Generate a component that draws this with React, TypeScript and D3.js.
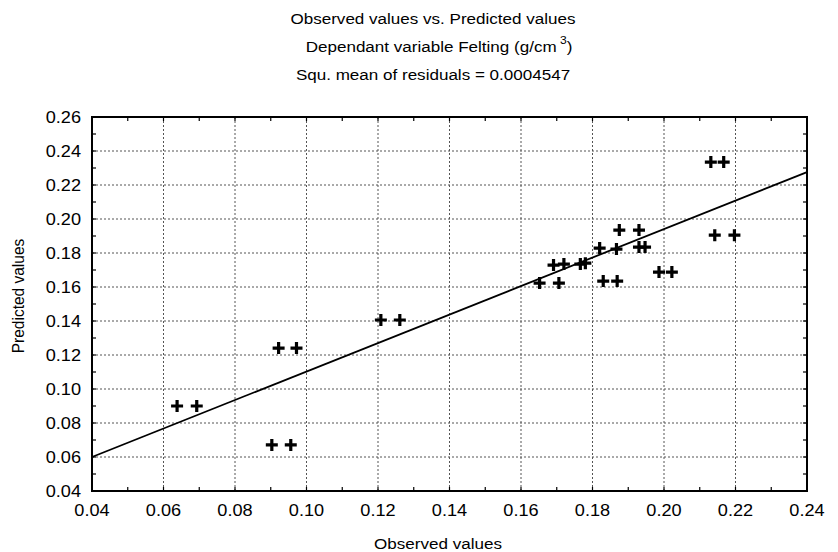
import React from "react";
import * as d3 from "d3";

const titleLines = [
  "Observed values vs. Predicted values",
  "Dependant variable Felting (g/cm",
  "Squ. mean of residuals = 0.0004547",
];
const xLabel = "Observed values";
const yLabel = "Predicted values";

const xTickValues = [0.04, 0.06, 0.08, 0.1, 0.12, 0.14, 0.16, 0.18, 0.2, 0.22, 0.24];
const xTickLabels = ["0.04", "0.06", "0.08", "0.10", "0.12", "0.14", "0.16", "0.18", "0.20", "0.22", "0.24"];
const yTickValues = [0.04, 0.06, 0.08, 0.1, 0.12, 0.14, 0.16, 0.18, 0.2, 0.22, 0.24, 0.26];
const yTickLabels = ["0.04", "0.06", "0.08", "0.10", "0.12", "0.14", "0.16", "0.18", "0.20", "0.22", "0.24", "0.26"];

const observed = [
  0.0638, 0.0693, 0.0903, 0.0956, 0.0922, 0.0972, 0.1208, 0.1261,
  0.1652, 0.1706, 0.1691, 0.172, 0.1766, 0.178, 0.182, 0.1867,
  0.183, 0.1869, 0.1875, 0.193, 0.193, 0.1947, 0.1986, 0.2022,
  0.2131, 0.2167, 0.2142, 0.2197,
];
const predicted = [
  0.09, 0.09, 0.0671, 0.0671, 0.1241, 0.1241, 0.1406, 0.1406,
  0.1623, 0.1623, 0.1729, 0.1735, 0.1735, 0.174, 0.1829, 0.1823,
  0.1635, 0.1635, 0.1935, 0.1935, 0.1835, 0.1835, 0.1688, 0.1688,
  0.2335, 0.2335, 0.1905, 0.1905,
];

const fitX = [0.04, 0.24];
const fitY = [0.06, 0.2276];

const W = 838;
const H = 552;
const L = 92, R = 807, T = 117, B = 491;
const FONT = "'Liberation Sans', Arial, Helvetica, sans-serif";
const SX = 1.1;

export default function App() {
  const x = d3.scaleLinear().domain([0.04, 0.24]).range([L, R]);
  const y = d3.scaleLinear().domain([0.04, 0.26]).range([B, T]);

  const minorX = d3.range(0.05, 0.24, 0.02);
  const minorY = d3.range(0.05, 0.26, 0.02);

  const line = d3
    .line<number>()
    .x((_, i) => x(fitX[i]))
    .y((d) => y(d));

  const plus = (cx: number, cy: number) =>
    `M${cx - 6},${cy}H${cx + 6}M${cx},${cy - 6}V${cy + 6}`;

  const cx = 433;

  return (
    <svg
      width={W}
      height={H}
      style={{ position: "absolute", left: 0, top: 0, background: "#fff" }}
      fontFamily={FONT}
    >
      <rect x={0} y={0} width={W} height={H} fill="#fff" />
      {/* titles */}
      <g fill="#000" fontSize={15.5}>
        <text transform={`translate(${cx},24) scale(${SX},1)`} textAnchor="middle">
          {titleLines[0]}
        </text>
        <text transform={`translate(${cx + 6},52) scale(${SX},1)`} textAnchor="middle">
          {titleLines[1]}
          <tspan dx={3} dy={-8} fontSize={11}>3</tspan>
          <tspan dy={8}>)</tspan>
        </text>
        <text transform={`translate(${cx},80) scale(${SX},1)`} textAnchor="middle">
          {titleLines[2]}
        </text>
      </g>

      {/* grid */}
      <g stroke="#555" strokeWidth={1} strokeDasharray="2,2">
        {xTickValues.slice(1, -1).map((v) => (
          <line key={"gx" + v} x1={x(v)} x2={x(v)} y1={T} y2={B} />
        ))}
        {yTickValues.slice(1, -1).map((v) => (
          <line key={"gy" + v} x1={L} x2={R} y1={y(v)} y2={y(v)} />
        ))}
      </g>

      {/* ticks */}
      <g stroke="#000" strokeWidth={1.2}>
        {[...xTickValues, ...minorX].map((v, i) => (
          <g key={"tx" + i}>
            <line x1={x(v)} x2={x(v)} y1={B} y2={B - 4} />
            <line x1={x(v)} x2={x(v)} y1={T} y2={T + 4} />
          </g>
        ))}
        {[...yTickValues, ...minorY].map((v, i) => (
          <g key={"ty" + i}>
            <line x1={L} x2={L + 4} y1={y(v)} y2={y(v)} />
            <line x1={R} x2={R - 4} y1={y(v)} y2={y(v)} />
          </g>
        ))}
      </g>

      {/* frame */}
      <rect x={L} y={T} width={R - L} height={B - T} fill="none" stroke="#000" strokeWidth={2} />

      {/* fit line */}
      <path d={line(fitY) || ""} fill="none" stroke="#000" strokeWidth={1.8} />

      {/* points */}
      <g stroke="#000" strokeWidth={3.2}>
        {observed.map((o, i) => (
          <path key={"p" + i} d={plus(x(o), y(predicted[i]))} />
        ))}
      </g>

      {/* tick labels */}
      <g fill="#000" fontSize={16.5}>
        {xTickValues.map((v, i) => (
          <text
            key={"xl" + i}
            transform={`translate(${x(v)},516) scale(${SX},1)`}
            textAnchor="middle"
          >
            {xTickLabels[i]}
          </text>
        ))}
        {yTickValues.map((v, i) => (
          <text
            key={"yl" + i}
            transform={`translate(81,${y(v) + 6}) scale(${SX},1)`}
            textAnchor="end"
          >
            {yTickLabels[i]}
          </text>
        ))}
      </g>

      {/* axis titles */}
      <g fill="#000" fontSize={15.5}>
        <text transform={`translate(438,549) scale(${SX},1)`} textAnchor="middle">
          {xLabel}
        </text>
        <text transform={`translate(24,296) rotate(-90) scale(1,${SX})`} textAnchor="middle">
          {yLabel}
        </text>
      </g>
    </svg>
  );
}
